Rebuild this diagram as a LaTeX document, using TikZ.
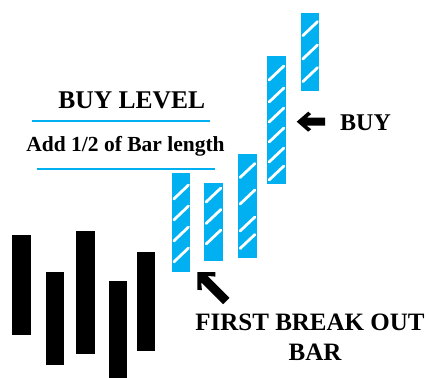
\documentclass[tikz,border=0pt]{standalone}
\usepackage{fontspec}
\setmainfont{Liberation Serif}
\definecolor{cyanbar}{RGB}{0,176,240}
\begin{document}
\begin{tikzpicture}[x=1pt,y=-1pt,
  bluebar/.style={fill=cyanbar},
  blackbar/.style={fill=black},
  stripe/.style={white,line width=2.8pt,line cap=round},
  levelline/.style={cyanbar,line width=1.7pt},
  pointer/.style={fill=black},
  lbl/.style={inner sep=0pt,font=\bfseries\fontsize{#1}{#1}\selectfont}]
\useasboundingbox (0,0) rectangle (429,378);
\fill[white] (0,0) rectangle (429,378);

% black bars
\fill[blackbar] (12.3,235.3) rectangle (30.7,335);
\fill[blackbar] (46,272.3) rectangle (64.3,365);
\fill[blackbar] (76.3,231.3) rectangle (94.7,354.3);
\fill[blackbar] (109,281.3) rectangle (127.3,380);
\fill[blackbar] (136.7,251.7) rectangle (155,351);

% blue bars with stripes
\fill[bluebar] (172,173) rectangle (190.3,272);
\foreach \c in {192,213,234,255} \draw[stripe] (173.8,\c+7) -- (188.5,\c-7);
\fill[bluebar] (204.3,183) rectangle (222.7,261);
\foreach \c in {195,216.5,237} \draw[stripe] (206.1,\c+7) -- (220.9,\c-7);
\fill[bluebar] (238.3,154) rectangle (256.7,258);
\foreach \c in {170.5,197,224,241.5} \draw[stripe] (240.1,\c+7) -- (254.9,\c-7);
\fill[bluebar] (267.3,56) rectangle (285.7,184);
\foreach \c in {73,95,115,135,155,173} \draw[stripe] (269.1,\c+7) -- (283.9,\c-7);
\fill[bluebar] (301,13) rectangle (319.3,91);
\foreach \c in {28.7,52,74.7} \draw[stripe] (302.8,\c+7) -- (317.5,\c-7);

% level lines
\coordinate (l1a) at (31.7,121.3); \coordinate (l1b) at (210,121.3);
\coordinate (l2a) at (36.7,169.3); \coordinate (l2b) at (215,169.3);
\draw[levelline] (l1a) -- (l1b);
\draw[levelline] (l2a) -- (l2b);

% texts
\node[lbl=25.5,anchor=base] (buylevel) at (131.7,108.3) {BUY LEVEL};
\node[lbl=21.5,anchor=base] (addhalf) at (125.5,151) {Add 1/2 of Bar length};
\node[lbl=24,anchor=base west] (buy) at (340,130) {BUY};
\node[lbl=25,anchor=base] (fbo) at (310,330) {FIRST BREAK OUT};
\node[lbl=25,anchor=base] (bar) at (315,360) {BAR};

% pointer arrows
\fill[pointer,shift={(296.7,121.7)}]
  (0,0) -- (11.5,-10) -- (14.5,-7.5) -- (10,-4) -- (28.3,-4) -- (28.3,4) -- (10,4) -- (14.5,7.5) -- (11.5,10) -- cycle;
\fill[pointer,shift={(197.3,272)},rotate=-45]
  (0,0) -- (12.7,-12.7) -- (16,-9.5) -- (10,-4.5) -- (41,-4.5) -- (41,4.5) -- (10,4.5) -- (16,9.5) -- (12.7,12.7) -- cycle;
\end{tikzpicture}
\end{document}
